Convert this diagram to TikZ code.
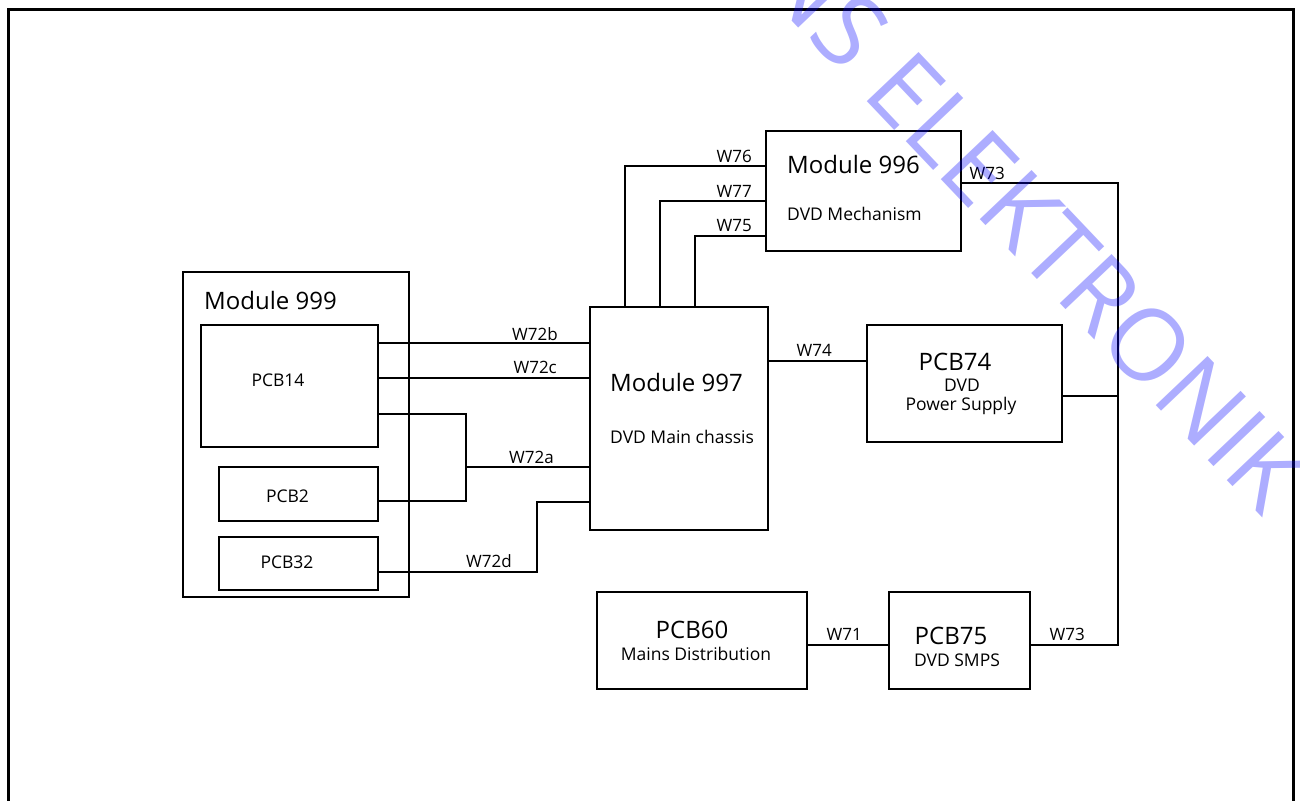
\documentclass[tikz,border=0pt]{standalone}
\usepackage{fontspec}
\setmainfont{Open Sans}
\newcommand{\fsz}[1]{\fontsize{#1}{#1}\selectfont}
\begin{document}
\begin{tikzpicture}[x=1pt,y=-1pt,
  box/.style={draw,line width=1.2pt,rectangle,inner sep=0pt,minimum width=#1},
  big/.style={inner sep=0pt,font=\fsz{24}},
  mid/.style={inner sep=0pt,font=\fsz{17.5}},
  wl/.style={inner sep=0pt,font=\fsz{17},anchor=east},
  wire/.style={line width=1.2pt},
  wm/.style={inner sep=0pt,text=blue,text opacity=0.32,font=\fsz{100},rotate=-46.5}]
\useasboundingbox (0,0) rectangle (1300,800);
% outer frame
\coordinate (fbl) at (8,815);
\coordinate (ftl) at (8,10);
\coordinate (ftr) at (1293,10);
\coordinate (fbr) at (1293,815);
\draw[line width=3pt] (fbl) -- (ftl) -- (ftr) -- (fbr);
% boxes
\node[box=195pt,minimum height=120pt] (m996) at (863.5,191) {};
\node[box=226pt,minimum height=325pt] (m999) at (296,434.5) {};
\node[box=177pt,minimum height=122pt] (pcb14) at (289.5,386) {};
\node[box=159pt,minimum height=54pt] (pcb2) at (298.5,494) {};
\node[box=159pt,minimum height=53pt] (pcb32) at (298.5,563.5) {};
\node[box=178pt,minimum height=223pt] (m997) at (679,418.5) {};
\node[box=195pt,minimum height=117pt] (pcb74) at (964.5,383.5) {};
\node[box=210pt,minimum height=97pt] (pcb60) at (702,640.5) {};
\node[box=141pt,minimum height=97pt] (pcb75) at (959.5,640.5) {};
% box texts
\node[big,anchor=west] (t996) at (787,164) {Module 996};
\node[mid,anchor=west] (t996b) at (787,214) {DVD Mechanism};
\node[big,anchor=west] (t999) at (204,300) {Module 999};
\node[mid] (t14) at (278,380) {PCB14};
\node[mid] (t2) at (287.5,496) {PCB2};
\node[mid] (t32) at (287,562) {PCB32};
\node[big,anchor=west] (t997) at (610,382) {Module 997};
\node[mid,anchor=west] (t997b) at (610,437) {DVD Main chassis};
\node[big] (t74) at (955,362) {PCB74};
\node[mid] (t74b) at (962,385) {DVD};
\node[mid] (t74c) at (961,406) {Power Supply};
\node[big] (t60) at (692,630) {PCB60};
\node[mid] (t60b) at (696,654) {Mains Distribution};
\node[big] (t75) at (951,636) {PCB75};
\node[mid] (t75b) at (957,660) {DVD SMPS};
% wires
\draw[wire] (m997.north -| 625,0) |- (m996.west |- 0,166);
\draw[wire] (m997.north -| 660,0) |- (m996.west |- 0,201);
\draw[wire] (m997.north -| 695,0) |- (m996.west |- 0,236);
\coordinate (c73) at (1118,183);
\draw[wire] (m996.east |- c73) -- (c73) -- (c73 |- 0,645) -- (pcb75.east |- 0,645);
\draw[wire] (pcb74.east |- 0,396) -- (c73 |- 0,396);
\draw[wire] (m997.east |- 0,361) -- (pcb74.west |- 0,361);
\draw[wire] (pcb60.east |- 0,645) -- (pcb75.west |- 0,645);
\draw[wire] (pcb14.east |- 0,343) -- (m997.west |- 0,343);
\draw[wire] (pcb14.east |- 0,378) -- (m997.west |- 0,378);
\coordinate (j72a) at (466,414);
\draw[wire] (pcb14.east |- j72a) -- (j72a) -- (j72a |- 0,501) -- (pcb2.east |- 0,501);
\draw[wire] (j72a |- 0,467) -- (m997.west |- 0,467);
\coordinate (j72d) at (537,572);
\draw[wire] (pcb32.east |- j72d) -- (j72d) -- (j72d |- 0,502) -- (m997.west |- 0,502);
% wire labels
\node[wl] (l76) at (752,156.5) {W76};
\node[wl] (l77) at (752,191.5) {W77};
\node[wl] (l75) at (752,226) {W75};
\node[wl] (l73a) at (1005,173) {W73};
\node[wl] (l74) at (832,350.5) {W74};
\node[wl] (l72b) at (558,334) {W72b};
\node[wl] (l72c) at (557,367) {W72c};
\node[wl] (l72a) at (554,457) {W72a};
\node[wl] (l72d) at (512,561.5) {W72d};
\node[wl] (l71) at (862,634) {W71};
\node[wl] (l73b) at (1085,634) {W73};
% watermark
\node[wm] (wma) at (1060,252) {S ELEKTRONIK};
\node[wm,anchor=base east] (wmb) at (wma.base west) {N};
\end{tikzpicture}
\end{document}
